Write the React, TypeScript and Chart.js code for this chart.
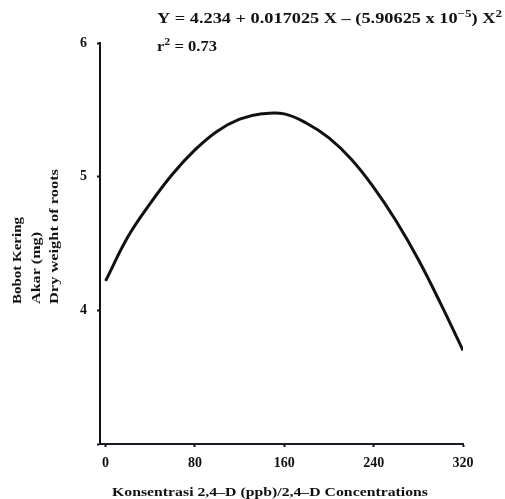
import React, { useEffect, useRef } from "react";
import { Chart, registerables } from "chart.js";

Chart.register(...registerables);

// Concentration of 2,4-D (ppb)
const concentrations = [0, 20, 40, 60, 80, 100, 120, 140, 160, 180, 200, 220, 240, 260, 280, 300, 320];
// Dry weight of roots (mg)
const dryWeight = [4.22, 4.55, 4.8, 5.02, 5.2, 5.34, 5.43, 5.47, 5.47, 5.4, 5.29, 5.13, 4.92, 4.67, 4.38, 4.05, 3.7];
const xTicks = [0, 80, 160, 240, 320];
const yTicks = [4, 5, 6];
const yTitleLines = ["Bobot Kering", "Akar (mg)", "Dry weight of roots"];
const xTitle = "Konsentrasi 2,4\u2013D (ppb)/2,4\u2013D Concentrations";
const equationParts = ["Y = 4.234 + 0.017025 X \u2013 (5.90625 x 10", "\u22125", ") X", "2"];
const rSquared = ["r", "2", " = 0.73"];

const FONT = '"Liberation Serif", "DejaVu Serif", serif';

function drawParts(ctx: CanvasRenderingContext2D, parts: string[], supIdx: (i: number) => boolean, x: number, y: number, size: number, target: number) {
  const big = `bold ${size}px ${FONT}`;
  const small = `bold ${Math.round(size * 0.7)}px ${FONT}`;
  let w = 0;
  parts.forEach((p, i) => {
    ctx.font = supIdx(i) ? small : big;
    w += ctx.measureText(p).width;
  });
  const sx = target / w;
  ctx.save();
  ctx.translate(x, y);
  ctx.scale(sx, 1);
  let cx = 0;
  parts.forEach((p, i) => {
    const sup = supIdx(i);
    ctx.font = sup ? small : big;
    ctx.fillText(p, cx, sup ? -size * 0.45 : 0);
    cx += ctx.measureText(p).width;
  });
  ctx.restore();
}

const textPlugin = {
  id: "texts",
  afterDraw(chart: any) {
    const ctx = chart.ctx as CanvasRenderingContext2D;
    ctx.save();
    ctx.fillStyle = "#111";
    ctx.textBaseline = "alphabetic";
    ctx.textAlign = "left";
    drawParts(ctx, equationParts, (i) => i % 2 === 1, 157, 23, 14, 345);
    drawParts(ctx, rSquared, (i) => i === 1, 157, 51, 14, 60);
    // y title (rotated lines, bottom aligned)
    const lineX = [16, 35, 53];
    const lineLen = [87, 72, 135];
    yTitleLines.forEach((t, i) => {
      ctx.save();
      ctx.translate(lineX[i] + 5, 304);
      ctx.rotate(-Math.PI / 2);
      drawParts(ctx, [t], () => false, 0, 0, 13, lineLen[i]);
      ctx.restore();
    });
    // x title
    drawParts(ctx, [xTitle], () => false, 112, 496, 13, 316);
    ctx.restore();
  },
};

export default function App() {
  const ref = useRef<HTMLCanvasElement>(null);
  useEffect(() => {
    if (!ref.current) return;
    const chart = new Chart(ref.current, {
      type: "line",
      data: {
        datasets: [
          {
            data: concentrations.map((c, i) => ({ x: c, y: dryWeight[i] })),
            borderColor: "#111",
            borderWidth: 3,
            pointRadius: 0,
            tension: 0.4,
            fill: false,
          },
        ],
      },
      options: {
        animation: false,
        responsive: false,
        maintainAspectRatio: false,
        layout: { padding: { top: 43, right: 42, left: 0, bottom: 0 } },
        plugins: { legend: { display: false }, tooltip: { enabled: false } },
        scales: {
          x: {
            type: "linear",
            min: -5,
            max: 320,
            afterBuildTicks: (s: any) => {
              s.ticks = xTicks.map((v) => ({ value: v }));
            },
            afterFit: (s: any) => {
              s.height = 55;
            },
            border: { display: true, color: "#1a1a2e", width: 2 },
            grid: { drawOnChartArea: false, tickLength: 3, color: "#111", tickWidth: 2 },
            ticks: {
              color: "#111",
              padding: 8,
              maxRotation: 0,
              font: { family: FONT, size: 14, weight: "bold" },
            },
          },
          y: {
            type: "linear",
            min: 3,
            max: 6,
            afterBuildTicks: (s: any) => {
              s.ticks = [3, ...yTicks].map((v) => ({ value: v }));
            },
            afterFit: (s: any) => {
              s.width = 100;
            },
            border: { display: true, color: "#111", width: 2 },
            grid: { drawOnChartArea: false, tickLength: 3, color: "#111", tickWidth: 2 },
            ticks: {
              color: "#111",
              padding: 10,
              callback: (v: any) => (yTicks.includes(Number(v)) ? String(v) : ""),
              font: { family: FONT, size: 14, weight: "bold" },
            },
          },
        },
      },
      plugins: [textPlugin],
    } as any);
    return () => chart.destroy();
  }, []);
  return (
    <div style={{ position: "fixed", left: 0, top: 0, width: 505, height: 499, background: "#fff" }}>
      <canvas ref={ref} width={505} height={499} style={{ width: 505, height: 499 }} />
    </div>
  );
}
